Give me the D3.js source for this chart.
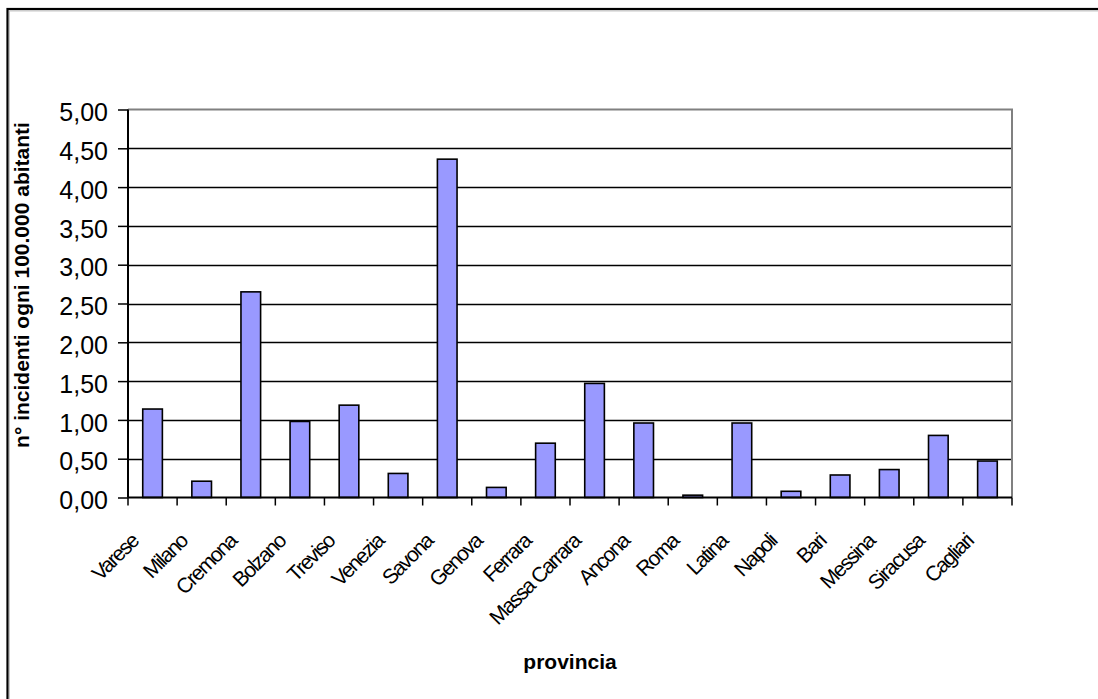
<!DOCTYPE html>
<html>
<head>
<meta charset="utf-8">
<script src="https://cdn.jsdelivr.net/npm/d3@7"></script>
<style>
  html, body { margin: 0; padding: 0; background: #fff; }
  svg { display: block; }
  text { font-family: "Liberation Sans", Arial, sans-serif; fill: #000; }
</style>
</head>
<body>
<svg id="chart" width="1098" height="699"></svg>
<script>
const categories = ["Varese","Milano","Cremona","Bolzano","Treviso","Venezia","Savona","Genova","Ferrara","Massa Carrara","Ancona","Roma","Latina","Napoli","Bari","Messina","Siracusa","Cagliari"];
const values = [1.14,0.21,2.65,0.98,1.19,0.31,4.36,0.13,0.70,1.47,0.96,0.03,0.96,0.08,0.29,0.36,0.80,0.47];
const yTicks = [0,0.5,1,1.5,2,2.5,3,3.5,4,4.5,5];
const yTickLabels = ["0,00","0,50","1,00","1,50","2,00","2,50","3,00","3,50","4,00","4,50","5,00"];
const xTitle = "provincia";
const yTitle = "n° incidenti ogni 100.000 abitanti";

(function () {
const svg = d3.select("#chart");
const W = 1098, H = 699;
const pLeft = 128, pRight = 1012, pTop = 109.5, pBottom = 497.5;

svg.append("rect").attr("x",0).attr("y",0).attr("width",W).attr("height",H).attr("fill","#fff");
// outer frame
svg.append("rect").attr("x",9.5).attr("y",11).attr("width",1100).attr("height",700)
  .attr("fill","none").attr("stroke","#c8c8c8").attr("stroke-width",1);
svg.append("rect").attr("x",7.5).attr("y",9).attr("width",1100).attr("height",700)
  .attr("fill","none").attr("stroke","#000").attr("stroke-width",2.2);

const x = d3.scaleBand().domain(categories).range([pLeft, pRight]).paddingInner(0.6).paddingOuter(0.3);
const xb = d3.scaleBand().domain(categories).range([pLeft, pRight]);
const y = d3.scaleLinear().domain([0,5]).range([pBottom, pTop]);

// gridlines
svg.append("g").selectAll("line").data(yTicks.filter(t => t > 0 && t < 5)).join("line")
  .attr("x1", pLeft).attr("x2", pRight)
  .attr("y1", d => Math.round(y(d)) + 0.5).attr("y2", d => Math.round(y(d)) + 0.5)
  .attr("stroke","#000").attr("stroke-width",1.3);

// plot border top/right (gray)
svg.append("path")
  .attr("d", `M${pLeft},${pTop}H${pRight}V${pBottom}`)
  .attr("fill","none").attr("stroke","#808080").attr("stroke-width",2);

// bars
svg.append("g").selectAll("rect").data(values).join("rect")
  .attr("x", (d,i) => x(categories[i]))
  .attr("width", x.bandwidth())
  .attr("y", d => y(d))
  .attr("height", d => y(0) - y(d))
  .attr("fill","#9999FF").attr("stroke","#000").attr("stroke-width",1.6);

// y axis
const yAxis = d3.axisLeft(y).tickValues(yTicks).tickSize(10).tickPadding(0)
  .tickFormat((d,i) => yTickLabels[i]);
const gy = svg.append("g").attr("transform", `translate(${pLeft},0)`).call(yAxis);
gy.select(".domain").attr("stroke","#000").attr("stroke-width",2).attr("d", `M0,${pTop}V${pBottom}`);
gy.selectAll(".tick line").attr("stroke","#000").attr("stroke-width",1.5);
gy.selectAll(".tick text").attr("x",-20).attr("dy",null).attr("y", 4.5)
  .attr("dominant-baseline","middle")
  .style("font-size","25px").attr("fill","#000");

// x axis
const xAxis = d3.axisBottom(xb).tickSize(0).tickFormat("");
const gx = svg.append("g").attr("transform", `translate(0,${pBottom})`).call(xAxis);
gx.select(".domain").attr("stroke","#000").attr("stroke-width",2).attr("d", `M${pLeft},0H${pRight}`);
gx.selectAll(".tick").remove();
const bounds = categories.map(c => xb(c)).concat([pRight]);
gx.append("g").selectAll("line").data(bounds).join("line")
  .attr("x1", d => d).attr("x2", d => d).attr("y1", 0).attr("y2", 8)
  .attr("stroke","#000").attr("stroke-width",1.5);

// x labels
svg.append("g").selectAll("text").data(categories).join("text")
  .attr("transform", d => `translate(${xb(d) + xb.bandwidth()/2 - 13},${pBottom + 45}) rotate(-45)`)
  .attr("text-anchor","end")
  .style("font-size","21px").style("letter-spacing","-1.6px")
  .text(d => d);

// titles
svg.append("text").attr("x", (pLeft+pRight)/2).attr("y", 669).attr("text-anchor","middle")
  .style("font-size","21px").style("font-weight","bold").text(xTitle);
svg.append("text").attr("transform", `translate(29,285) rotate(-90)`).attr("text-anchor","middle")
  .style("font-size","21px").style("font-weight","bold").text(yTitle);
})();
</script>
</body>
</html>
